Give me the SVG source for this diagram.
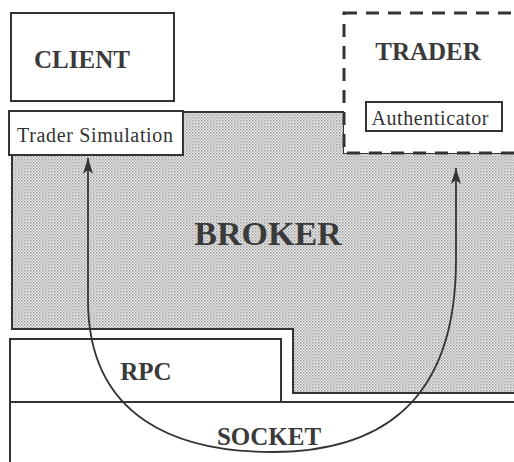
<svg xmlns="http://www.w3.org/2000/svg" width="514" height="462" viewBox="0 0 514 462">
<defs>
<pattern id="dots" width="3" height="3" patternUnits="userSpaceOnUse">
<rect width="3" height="3" fill="#ececec"/>
<rect x="0" y="0" width="1.5" height="1.5" fill="#9a9a9a"/>
<rect x="1.5" y="1.5" width="1.5" height="1.5" fill="#b8b8b8"/>
</pattern>
<marker id="arr" viewBox="0 0 16 12" refX="16" refY="6" markerWidth="16" markerHeight="12" markerUnits="userSpaceOnUse" orient="auto-start-reverse">
<path d="M16,6 L0,1 L4,6 L0,11 Z" fill="#333"/>
</marker>
</defs>
<style>
.box{fill:#fff;stroke:#333;stroke-width:2}
.big{font-family:"Liberation Serif",serif;font-weight:bold;font-size:25px;fill:#3a3a3a}
.small{font-family:"Liberation Serif",serif;font-size:20px;fill:#333}
.conn{fill:none;stroke:#333;stroke-width:1.8}
</style>
<g id="broker">
<polygon points="12,112 344,112 344,153 520,153 520,393 293,393 293,329 12,329" fill="url(#dots)" stroke="#333" stroke-width="2"/>
<text class="big" x="268" y="245" text-anchor="middle" style="font-size:34px">BROKER</text>
</g>
<g id="client">
<rect class="box" x="11" y="13" width="163" height="88"/>
<text class="big" x="82" y="68" text-anchor="middle">CLIENT</text>
</g>
<g id="trader-simulation">
<rect class="box" x="9" y="111" width="174" height="44"/>
<text class="small" x="95" y="142" text-anchor="middle" textLength="156">Trader Simulation</text>
</g>
<g id="trader">
<rect x="344" y="13" width="180" height="140" fill="#fff" stroke="#333" stroke-width="3" stroke-dasharray="13 9"/>
<text class="big" x="428" y="60" text-anchor="middle">TRADER</text>
</g>
<g id="authenticator">
<rect class="box" x="366" y="102" width="136" height="29"/>
<text class="small" x="430" y="125" text-anchor="middle" textLength="117">Authenticator</text>
</g>
<g id="rpc">
<rect class="box" x="10" y="339" width="271" height="63"/>
<text class="big" x="146" y="380" text-anchor="middle">RPC</text>
</g>
<g id="socket">
<rect class="box" x="10" y="402" width="520" height="80"/>
<text class="big" x="269" y="445" text-anchor="middle">SOCKET</text>
</g>
<g id="connectors">
<path class="conn" d="M88,158 L88,300 C88,420 180,452 272,452 C372,452 456,410 456,260 L456,168" marker-start="url(#arr)" marker-end="url(#arr)"/>
</g>
</svg>
